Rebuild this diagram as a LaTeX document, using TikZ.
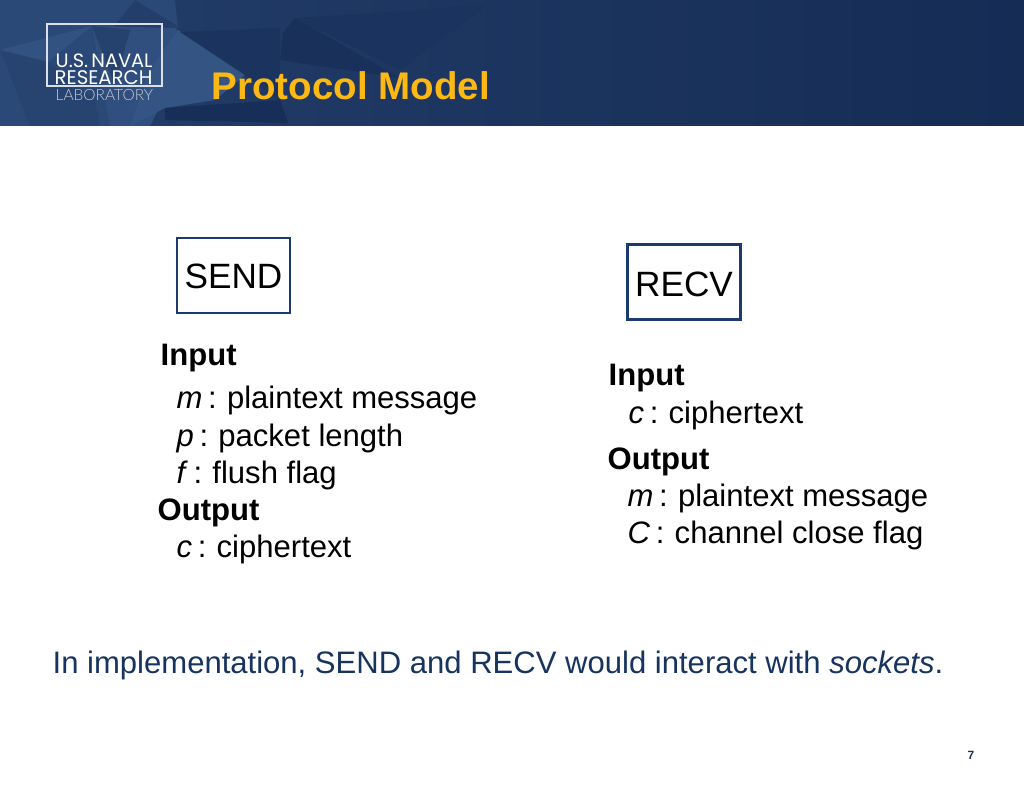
\documentclass[tikz,border=0pt]{standalone}
\usepackage{fontspec}
\setmainfont{Liberation Sans}
\newfontfamily\logofont{Poppins}
\newfontfamily\logolight{Lato Light}
\definecolor{navy}{HTML}{152C55}
\definecolor{facetblue}{HTML}{4A72A6}
\definecolor{boxblue}{HTML}{1B3A6E}
\definecolor{linkblue}{HTML}{17345F}
\definecolor{gold}{HTML}{FDB913}
\newcommand{\varcolon}[1]{\textit{#1}\kern0.18em:\kern0.33em}
\tikzset{
  x=0.01cm,y=-0.01cm,
  facet/.style={fill=facetblue!#1!navy,draw=none},
  bodytext/.style={anchor=base west,inner sep=0pt,font=\fontsize{8.83}{11}\selectfont},
  headtext/.style={bodytext,font=\fontsize{8.83}{11}\selectfont\bfseries},
  opbox/.style={draw=boxblue,line width=0.7pt,minimum width=1.13cm,minimum height=0.75cm,inner sep=0pt,text height=0.25cm,text depth=0pt,font=\fontsize{10}{12}\selectfont},
  logotext/.style={anchor=base west,inner sep=0pt,text=white}
}
\begin{document}
\begin{tikzpicture}
        \useasboundingbox (0,0) rectangle (1024,791);
        \fill[white] (0,0) rectangle (1024,791);

        \fill[left color=facetblue!22!navy,middle color=navy,right color=navy,draw=none] (150,0) rectangle (1024,126);
        \fill[facet=42] (0,0) -- (175,0) -- (178,30) -- (150,126) -- (0,126) -- cycle;
        \fill[facet=26] (135,0) -- (176,25) -- (178,30) -- (100,45) -- cycle;
        \fill[facet=55] (0,50) -- (92,26) -- (48,62) -- cycle;
        \fill[facet=34] (0,50) -- (48,62) -- (95,100) -- (100,126) -- (30,126) -- cycle;
        \fill[facet=50] (92,26) -- (176,28) -- (178,70) -- (150,126) -- (110,126) -- cycle;
        \fill[facet=30] (92,26) -- (130,30) -- (115,85) -- cycle;
        \fill[facet=58] (178,30) -- (245,75) -- (215,100) -- (165,108) -- (130,126) -- (150,70) -- cycle;
        \fill[facet=12] (180,32) -- (280,28) -- (280,100) -- (245,75) -- cycle;
        \fill[facet=4] (165,108) -- (280,100) -- (288,123) -- (165,120) -- cycle;
        \fill[facet=6] (283,33) -- (295,18) -- (400,78) -- (280,60) -- cycle;
        \fill[facet=12] (295,18) -- (420,10) -- (490,3) -- (400,70) -- cycle;

        \draw[white!85!navy,line width=0.35pt] (47,86) -- (47,24) -- (162,24) -- (162,86) -- cycle;
        \node[logotext,font=\logofont\fontsize{5.5}{6}\selectfont] (naval) at (55,68) {U.S.\,NAVAL};
        \node[logotext,font=\logofont\fontsize{5.6}{6}\selectfont] (research) at (54,85) {RESEARCH};
        \node[logotext,text=white!75!navy,font=\logolight\fontsize{4.4}{5}\selectfont] (lab) at (55,101) {LABORATORY};

        \node[anchor=base west,inner sep=0pt,text=gold,font=\fontsize{10.95}{13}\selectfont\bfseries] (title) at (211,100) {Protocol Model};

        \node[opbox] (send) at (233.5,275.5) {SEND};
        \node[opbox,text height=0.29cm] (recv) at (684,282) {RECV};

        \node[headtext] (sendin) at (160,366) {Input};
        \node[bodytext] (sendm) at (176,409) {\varcolon{m}plaintext message};
        \node[bodytext] (sendp) at (176,446) {\varcolon{p}packet length};
        \node[bodytext] (sendf) at (176,483) {\varcolon{f}flush flag};
        \node[headtext] (sendout) at (157,520) {Output};
        \node[bodytext] (sendc) at (176,557) {\varcolon{c}ciphertext};

        \node[headtext] (recvin) at (608,386) {Input};
        \node[bodytext] (recvc) at (628,423) {\varcolon{c}ciphertext};
        \node[headtext] (recvout) at (607,469) {Output};
        \node[bodytext] (recvm) at (627,506) {\varcolon{m}plaintext message};
        \node[bodytext] (recvf) at (627,543) {\varcolon{C}channel close flag};

        \node[bodytext,text=linkblue] (note) at (52,673) {In implementation, SEND and RECV would interact with \textit{sockets}.};
        \node[anchor=base,inner sep=0pt,text=linkblue,font=\fontsize{3.4}{4}\selectfont\bfseries] (pagenum) at (971,759) {7};
\end{tikzpicture}
\end{document}
